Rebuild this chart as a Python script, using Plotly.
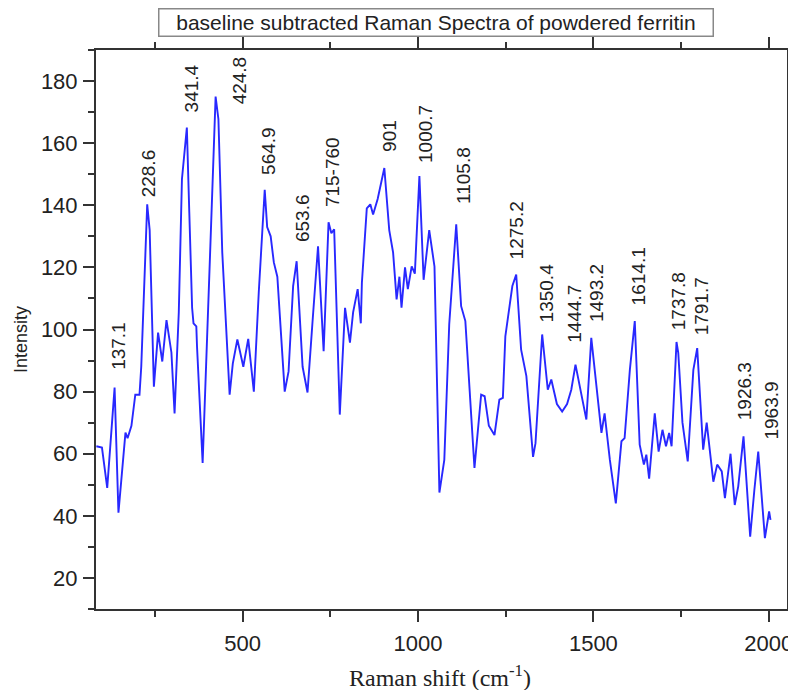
import plotly.graph_objects as go

# Raman shift (cm^-1) and intensity
shift = [83, 99, 114, 135, 146, 166, 172, 183, 194, 206, 211, 228, 235, 247, 259, 271, 283, 297, 306,
         318, 327, 341, 348, 356, 360, 368, 370, 386, 408, 423, 431, 442, 463, 472, 485, 502, 516, 532,
         546, 563, 570, 580, 589, 599, 620, 631, 644, 654, 671, 685, 699, 715, 731, 745, 753, 761, 777,
         792, 806, 815, 828, 837, 840, 854, 864, 872, 885, 904, 918, 929, 939, 947, 953, 963, 971, 982,
         991, 1004, 1016, 1032, 1047, 1061, 1075, 1089, 1109, 1123, 1135, 1161, 1180, 1190, 1202, 1218,
         1232, 1242, 1249, 1259, 1269, 1280, 1294, 1309, 1328, 1335, 1354, 1370, 1380, 1396, 1411, 1425,
         1437, 1449, 1466, 1480, 1494, 1523, 1532, 1547, 1564, 1580, 1589, 1604, 1618, 1632, 1644, 1651,
         1659, 1675, 1686, 1697, 1707, 1716, 1723, 1737, 1742, 1754, 1769, 1785, 1796, 1813, 1823, 1842,
         1853, 1866, 1875, 1891, 1903, 1913, 1928, 1947, 1959, 1970, 1989, 2001, 2005]
intensity = [62.4, 62, 49, 81.3, 41, 66.8, 65, 69, 79, 79, 88, 140.3, 132, 81.6, 99, 89.7, 103, 92.6, 73,
             105.5, 148.4, 165, 137.7, 107, 102, 101, 94.5, 57, 126.8, 175, 167.7, 124.8, 79, 89, 96.8, 88,
             97, 80, 111.9, 145, 133, 130, 121.6, 117, 80, 86.5, 114, 122, 88, 79.7, 102, 126.8, 93, 134.5,
             131, 132.3, 72.6, 107, 95.8, 105.5, 113, 102, 115, 139, 140.3, 137, 142, 152, 132, 124.8,
             109.7, 117, 107, 120, 113, 120.3, 118, 149.4, 116, 132, 120.3, 47.5, 58, 101.6, 133.9, 107.5,
             102.7, 55.4, 79, 78.5, 69, 66, 77.4, 78, 97.8, 105.4, 114, 117.7, 93.5, 85, 59, 63.4, 98.4,
             80.6, 83.9, 76, 73.6, 76, 80.6, 88.7, 78.5, 71, 97.3, 66.7, 73, 58, 44, 64, 65, 87, 102.7, 62.9,
             56.5, 59.7, 52, 73, 60.7, 67.7, 62.4, 66.7, 62.4, 96, 92.5, 70, 57.5, 87, 94, 61.3, 70, 51, 56.5,
             54.3, 45.7, 60, 43.5, 49.5, 65.6, 33.3, 48.4, 60.7, 32.8, 41.4, 38.7]

# Peak labels
peak_labels = ["137.1", "228.6", "341.4", "424.8", "564.9", "653.6", "715-760", "901", "1000.7",
               "1105.8", "1275.2", "1350.4", "1444.7", "1493.2", "1614.1", "1737.8", "1791.7",
               "1926.3", "1963.9"]
label_x = [146, 231, 357, 491, 574, 671, 757, 917, 1023, 1129, 1280, 1366, 1446, 1509, 1629, 1743,
           1809, 1931, 2009]
label_y = [86.5, 142, 169.4, 172, 149, 127.4, 138.7, 156.5, 153, 139.7, 122, 101.6, 95.2, 101.6, 107,
           99, 97.4, 70, 63.9]

title_text = "baseline subtracted Raman Spectra of powdered ferritin"
x_title = "Raman shift (cm<sup>-1</sup>)"
y_title = "Intensity"

# the page body adds an 8px offset, so the figure is drawn 8px smaller
OFF = 8
W, H = 796 - OFF, 690 - OFF
L, R, T, B = 96 - OFF, 9, 50 - OFF, 81
pw, ph = W - L - R, H - T - B


def px(xp):
    return (xp - OFF - L) / pw


def py(yp):
    return 1 - (yp - OFF - T) / ph


fig = go.Figure()
fig.add_trace(go.Scatter(x=shift, y=intensity, mode="lines",
                         line=dict(color="rgb(40,40,255)", width=1.9), showlegend=False))

annotations = []
for t, x, y in zip(peak_labels, label_x, label_y):
    annotations.append(dict(x=x, y=y, xref="x", yref="y", text=t, showarrow=False,
                            textangle=-90, xanchor="center", yanchor="bottom",
                            font=dict(family="Liberation Sans", size=19, color="#222")))
annotations.append(dict(x=px(435.5), y=py(22.5), xref="paper", yref="paper", text=title_text,
                        showarrow=False, xanchor="center", yanchor="middle",
                        width=551, height=24, align="center", valign="middle",
                        bordercolor="#888", borderwidth=1.5, borderpad=1, bgcolor="white",
                        font=dict(family="Liberation Sans", size=21, color="#222")))
annotations.append(dict(x=px(440), y=py(676), xref="paper", yref="paper", text=x_title,
                        showarrow=False, xanchor="center", yanchor="middle",
                        font=dict(family="Liberation Serif", size=24, color="#222")))
annotations.append(dict(x=px(21), y=py(340), xref="paper", yref="paper", text=y_title,
                        showarrow=False, xanchor="center", yanchor="middle", textangle=-90,
                        font=dict(family="Liberation Sans", size=18, color="#222")))

fig.update_layout(
    width=W, height=H,
    margin=dict(l=L, r=R, t=T, b=B, autoexpand=False),
    paper_bgcolor="white", plot_bgcolor="white",
    annotations=annotations,
    xaxis=dict(range=[82, 2052], tick0=0, dtick=500, ticks="outside", ticklen=11, tickwidth=2,
               tickcolor="#333", showline=True, linecolor="#333", linewidth=2, mirror="ticks",
               showgrid=False, zeroline=False, automargin=False,
               minor=dict(dtick=250, ticks="outside", ticklen=6, tickwidth=2, tickcolor="#333"),
               tickfont=dict(family="Liberation Sans", size=22, color="#222"),
               ticklabelstandoff=3),
    yaxis=dict(range=[10, 190], tick0=0, dtick=20, ticks="outside", ticklen=11, tickwidth=2,
               tickcolor="#333", showline=True, linecolor="#333", linewidth=2, mirror=True,
               showgrid=False, zeroline=False, automargin=False,
               minor=dict(dtick=10, ticks="outside", ticklen=6, tickwidth=2, tickcolor="#333"),
               tickfont=dict(family="Liberation Sans", size=22, color="#222"),
               ticklabelstandoff=1),
)

fig.write_html("out.html")
